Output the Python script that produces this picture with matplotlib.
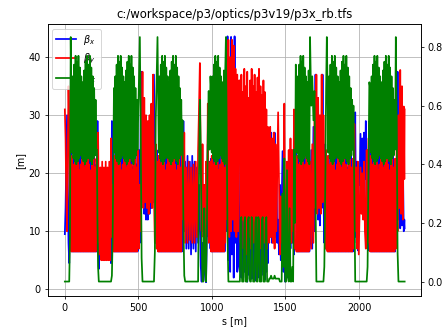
import numpy as np
import matplotlib
matplotlib.use('Agg')
import matplotlib.pyplot as plt

TITLE = 'c:/workspace/p3/optics/p3v19/p3x_rb.tfs'

# arc FODO cells: one value per cell, same lattice in every arc
ARC_BX_PEAKS = [22.5, 21.0, 23.0, 21.5, 20.5, 22.5, 23.5, 21.0, 22.0, 23.0, 21.5, 20.5, 22.5, 23.0, 21.0, 22.0, 23.5, 21.5]
ARC_BY_PEAKS = [23.0, 21.5, 22.0, 24.0, 22.0, 20.5, 21.5, 23.5, 22.5, 21.0, 22.5, 24.0, 21.5, 20.5, 22.5, 23.5, 21.0, 22.5]
ARC_DX_PEAKS = [0.66, 0.70, 0.74, 0.77, 0.75, 0.77, 0.73, 0.70, 0.68, 0.72, 0.75, 0.77, 0.74, 0.77, 0.73, 0.70, 0.66, 0.62]
ARC_DX_TROUGHS = [0.44, 0.42, 0.41, 0.40, 0.41, 0.42, 0.43, 0.42, 0.41, 0.40, 0.41, 0.42, 0.42, 0.41, 0.40, 0.42, 0.43, 0.45]
ARC_BETA_TROUGH = 6.5

# straight sections / matching sections
ST0_S = [0, 5, 10, 15, 20, 25, 30, 35, 40]
ST0_BX = [9.5, 14.0, 22.0, 30.0, 18.0, 8.0, 4.5, 20.0, 37.0]
ST0_BY = [31.0, 26.0, 16.0, 10.0, 24.0, 35.0, 28.0, 12.0, 8.0]
ST0_DX = [0.0, 0.0, 0.0, 0.0, 0.0, 0.0, 0.0, 0.15, 0.834]

ST1_S = [218, 222, 226, 231, 236, 242, 248, 254, 260, 266, 272, 278, 284, 290, 296, 302, 308, 314, 320, 325, 330]
ST1_BX = [8, 29, 10, 3.5, 14, 7, 19, 7.5, 18, 7, 19, 7, 18, 7, 20, 6.5, 19, 4.5, 29, 9, 24]
ST1_BY = [21, 8, 27, 15, 6, 21, 5, 22, 5, 21, 5, 22, 5, 21, 5, 22, 5, 26, 9, 18, 6.5]
ST1_DX = [0.45, 0.2, 0.05, 0.0, 0.0, 0.0, 0.0, 0.0, 0.0, 0.0, 0.0, 0.0, 0.0, 0.0, 0.0, 0.0, 0.0, 0.0, 0.02, 0.15, 0.45]

ST2_S = [498, 504, 510, 516, 522, 528, 534, 540, 546, 552, 558, 564, 570, 576, 582, 588, 594, 600, 606, 612, 618, 624, 630]
ST2_BX = [7, 24, 8, 30, 37.5, 15, 31, 13, 28, 12, 26, 12, 27, 13, 29, 14, 31, 15, 37, 22, 8, 24, 7]
ST2_BY = [24, 7, 18, 10, 22, 37.5, 14, 33, 15, 30, 14, 29, 13, 30, 15, 32, 14, 37, 16, 8, 25, 7, 22]
ST2_DX = [0.55, 0.70, 0.834, 0.50, 0.08, 0.0, 0.0, 0.0, 0.0, 0.0, 0.0, 0.0, 0.0, 0.0, 0.0, 0.0, 0.0, 0.0, 0.0, 0.10, 0.55, 0.70, 0.834]

ST3_S = [800, 806, 812, 818, 826, 834, 842, 850, 858, 866, 874, 882, 890, 898, 906,
         912, 918, 924, 930, 936, 942, 948, 954, 960, 966, 972, 978, 984, 990]
ST3_BX = [8, 29, 10, 22, 7, 23, 7, 22, 6, 23, 7, 22, 6.5, 21, 8,
          18, 12, 4, 1.3, 8, 1.5, 14, 3, 1.2, 10, 25, 9, 22, 7]
ST3_BY = [24, 12, 27, 8, 21, 8, 22, 8.5, 21, 8, 21.5, 8, 22, 9, 24,
          31, 39, 20, 10, 25, 9, 18, 7.5, 22, 12, 32, 8, 9, 22]
ST3_DX = [0.55, 0.2, 0.02, 0.0, 0.0, 0.0, 0.0, 0.0, 0.0, 0.0, 0.0, 0.0, 0.0, 0.0, 0.0,
          0.35, 0.62, 0.45, 0.15, 0.0, 0.0, 0.25, 0.05, 0.0, 0.2, 0.5, 0.65, 0.45, 0.7]

ST4_S = [1090, 1095, 1100, 1106, 1112, 1118, 1124, 1130, 1136, 1142, 1148, 1154, 1160, 1166, 1172, 1178, 1184]
ST4_BX = [20, 41, 10, 43.6, 5, 38, 3, 43.5, 6, 36, 2, 43.6, 8, 30, 3, 25, 4]
ST4_BY = [8, 15, 39, 12, 43, 9, 40, 10, 43, 12, 42, 10, 38, 9, 37, 10, 36]
ST4_DX = [0.70, 0.834, 0.55, 0.15, 0.0, 0.0, 0.0, 0.0, 0.0, 0.0, 0.0, 0.0, 0.0, 0.0, 0.0, 0.0, 0.0]

# rb insertion, 1190 .. 1385 m, 5 m steps
RB_START, RB_END = 1190, 1385
RB_BX = [3, 22, 2, 24, 1.5, 21, 3, 25, 2, 23, 1.3, 20, 2.5, 24, 3.5, 26, 1.8, 22, 2.2, 23,
         3, 25, 1.5, 21, 2.8, 24, 2, 26, 1.4, 23, 3.2, 25, 2.4, 27, 1.6, 26, 3, 27, 4.5, 26]
RB_BY = [36, 8, 37, 12, 34, 7, 38, 10, 35, 6, 37.5, 11, 33, 9, 36, 7, 38, 12, 35, 8,
         37, 10, 34, 6.5, 36.5, 11, 38, 9, 35, 7, 33.5, 12, 36, 8, 34, 10, 31, 7, 28, 9]
RB_DX = [0.0, 0.21, 0.22, 0.0, 0.0, 0.0, 0.20, 0.22, 0.0, 0.0, 0.0, 0.21, 0.22, 0.01, 0.0, 0.0, 0.22, 0.21, 0.0, 0.0,
         0.0, 0.20, 0.22, 0.0, 0.0, 0.22, 0.21, 0.0, 0.0, 0.0, 0.21, 0.22, 0.0, 0.0, 0.0, 0.20, 0.22, 0.0, 0.0, 0.0]

ST6_S = [1390, 1396, 1402, 1408, 1414, 1420, 1426, 1432, 1438, 1444, 1450, 1456, 1462, 1468, 1474, 1480,
         1486, 1492, 1498, 1504, 1510, 1516, 1522, 1528, 1534, 1540, 1546, 1552, 1558, 1564, 1570]
ST6_BX = [26, 9, 27, 8, 25, 10, 27, 9, 24, 8, 12, 6, 18, 5, 14, 23.8,
          3, 12, 1.3, 16, 2, 20, 6, 18, 7, 22, 8, 20, 6, 12, 24]
ST6_BY = [8, 28, 9, 26, 8, 27, 7, 25, 10, 20, 30.5, 18, 6, 16, 8, 9,
          14, 32, 10, 6, 22, 8, 24, 9, 26, 8, 24, 10, 31, 7, 8]
ST6_DX = [0.01, 0.01, 0.02, 0.01, 0.01, 0.01, 0.02, 0.01, 0.01, 0.01, 0.01, 0.01, 0.0, 0.0, 0.0, 0.30,
          0.05, 0.42, 0.0, 0.0, 0.38, 0.02, 0.0, 0.25, 0.0, 0.0, 0.05, 0.0, 0.45, 0.2, 0.74]

ST7_S = [1667, 1675, 1682, 1690, 1697, 1704, 1710, 1716, 1722, 1728, 1734, 1740, 1746, 1752, 1758, 1764, 1770, 1776, 1781]
ST7_BX = [8, 24, 7, 28, 10, 37, 15, 30, 12, 18, 11, 28, 14, 37, 16, 8, 25, 7, 23]
ST7_BY = [22, 7, 25, 8, 30, 14, 37, 13, 33, 14, 30, 13, 37, 15, 30, 20, 7, 24, 7]
ST7_DX = [0.834, 0.6, 0.7, 0.55, 0.65, 0.3, 0.0, 0.0, 0.0, 0.0, 0.0, 0.0, 0.0, 0.0, 0.0, 0.05, 0.3, 0.65, 0.834]

ST8_S = [1962, 1968, 1974, 1980, 1986, 1992, 1998, 2004, 2010, 2016, 2022, 2028, 2034, 2040, 2046, 2052, 2058, 2064, 2070]
ST8_BX = [22, 8, 30.5, 9, 22, 6.7, 20, 18, 26.8, 18, 26, 18.5, 27, 19, 29, 8, 24, 6.7, 29]
ST8_BY = [7, 28.5, 10, 21, 7, 22, 6, 14, 21, 13, 20, 12, 22, 10, 7, 24, 8, 26, 8]
ST8_DX = [0.6, 0.3, 0.0, 0.0, 0.0, 0.0, 0.0, 0.0, 0.0, 0.0, 0.0, 0.0, 0.0, 0.0, 0.0, 0.0, 0.05, 0.35, 0.68]

ST9_S = [2250, 2256, 2262, 2268, 2274, 2280, 2286, 2292, 2298, 2304, 2308, 2310]
ST9_BX = [22, 8, 37.5, 12, 26, 10.5, 30, 11, 22, 10, 12, 10.5]
ST9_BY = [7, 24, 10, 30, 14, 37.8, 13, 35, 12, 31.5, 19, 31]
ST9_DX = [0.834, 0.55, 0.1, 0.0, 0.0, 0.0, 0.0, 0.0, 0.0, 0.0, 0.0, 0.0]


def arc(s0, s1, ncell):
    # F quad: bx and Dx high, D quad: by high
    s = np.linspace(s0, s1, 2 * ncell)
    bx = np.full(2 * ncell, ARC_BETA_TROUGH)
    by = np.full(2 * ncell, ARC_BETA_TROUGH)
    dx = np.empty(2 * ncell)
    bx[0::2] = ARC_BX_PEAKS[:ncell]
    by[1::2] = ARC_BY_PEAKS[:ncell]
    dx[0::2] = ARC_DX_PEAKS[:ncell]
    dx[1::2] = ARC_DX_TROUGHS[:ncell]
    return s, bx, by, dx


pieces = [
    (ST0_S, ST0_BX, ST0_BY, ST0_DX),
    arc(44, 214, 18),
    (ST1_S, ST1_BX, ST1_BY, ST1_DX),
    arc(334, 494, 18),
    (ST2_S, ST2_BX, ST2_BY, ST2_DX),
    arc(634, 796, 18),
    (ST3_S, ST3_BX, ST3_BY, ST3_DX),
    arc(994, 1086, 10),
    (ST4_S, ST4_BX, ST4_BY, ST4_DX),
    (np.linspace(RB_START, RB_END, len(RB_BX)), RB_BX, RB_BY, RB_DX),
    (ST6_S, ST6_BX, ST6_BY, ST6_DX),
    arc(1575, 1662, 10),
    (ST7_S, ST7_BX, ST7_BY, ST7_DX),
    arc(1786, 1958, 18),
    (ST8_S, ST8_BX, ST8_BY, ST8_DX),
    arc(2076, 2245, 18),
    (ST9_S, ST9_BX, ST9_BY, ST9_DX),
]

s = np.concatenate([np.asarray(p[0], float) for p in pieces])
betx = np.concatenate([np.asarray(p[1], float) for p in pieces])
bety = np.concatenate([np.asarray(p[2], float) for p in pieces])
dx = np.concatenate([np.asarray(p[3], float) for p in pieces])

fig = plt.figure(figsize=(445 / 69.5, 331 / 69.5), dpi=69.5)
ax = fig.add_subplot(111)
fig.subplots_adjust(left=0.107, right=0.946, bottom=0.106, top=0.927)

l1, = ax.plot(s, betx, 'b-', lw=1.8, label=r'$\beta_x$')
l2, = ax.plot(s, bety, 'r-', lw=1.8, label=r'$\beta_y$')
ax.set_xlabel('s [m]')
ax.set_ylabel('[m]')
ax.set_title(TITLE)
ax.grid(True)
ax.set_xlim(-117, 2421)
ax.set_ylim(-1.15, 45.7)

ax2 = ax.twinx()
l3, = ax2.plot(s, dx, 'g-', lw=1.8, label=r'$D_x$')
ax2.set_ylim(-0.049, 0.878)

ax.legend(handles=[l1, l2, l3], loc='upper left')

fig.savefig('out.png', dpi=69.5)
